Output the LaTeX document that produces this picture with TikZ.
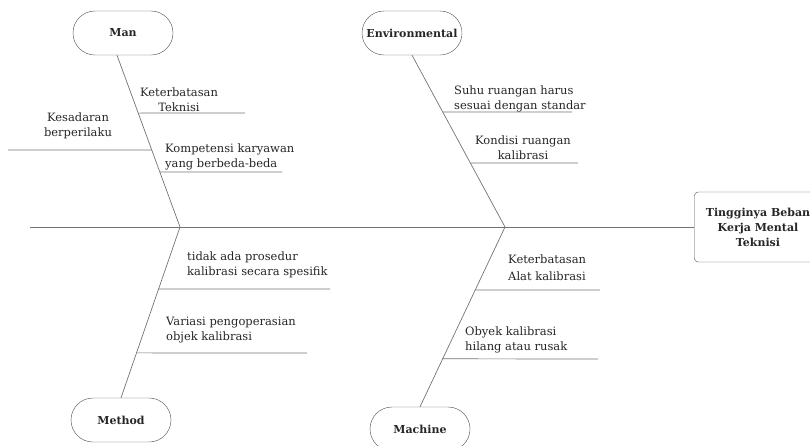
\documentclass[tikz,border=0pt]{standalone}
\usepackage{fontspec}
\setmainfont{DejaVu Serif}
\usetikzlibrary{calc}

\begin{document}
\begin{tikzpicture}[
  x=1pt, y=-1pt,
  cat/.style={draw=black!70, rounded corners=22pt, minimum width=100pt, minimum height=44pt, font=\bfseries\fontsize{11}{13}\selectfont, text=black!85},
  cause/.style={align=left, inner sep=0pt, font=\fontsize{11.5}{15}\selectfont, text=black!85},
  bone/.style={draw=black!55, line width=0.7pt}
]
  \useasboundingbox (0,0) rectangle (810,445);

  \node[cat] (man) at (123,33) {Man};
  \node[cat] (env) at (412,33) {Environmental};
  \node[cat] (meth) at (121,420) {Method};
  \node[cat] (mach) at (420,429) {Machine};
  \node[draw=black!70, rounded corners=4pt, minimum width=150pt, minimum height=70pt, anchor=west] (eff) at (694,227) {};
  \node[align=center, inner sep=0pt, font=\bfseries\fontsize{11}{15}\selectfont, text=black!85] (efft) at (758,227)
        {Tingginya Beban\\Kerja Mental\\Teknisi};

  \coordinate (tail) at (30,227);
  \coordinate (jm) at (180,227);
  \coordinate (je) at (505,227);
  \coordinate (mtop) at ([xshift=-6]man.south);

  \draw[bone] (tail) -- (eff.west);
  \draw[bone] (mtop) -- (jm);
  \draw[bone] (env.south) -- (je);
  \draw[bone] (meth.north) -- (jm);
  \draw[bone] (mach.north) -- (je);

  \coordinate (k1) at ($(mtop)!0.337!(jm)$);
  \coordinate (k2) at ($(mtop)!0.552!(jm)$);
  \coordinate (k3) at ($(mtop)!0.680!(jm)$);
  \coordinate (s1) at ($(env.south)!0.331!(je)$);
  \coordinate (s2) at ($(env.south)!0.628!(je)$);
  \coordinate (p1) at ($(meth.north)!0.637!(jm)$);
  \coordinate (p2) at ($(meth.north)!0.263!(jm)$);
  \coordinate (a1) at ($(mach.north)!0.650!(je)$);
  \coordinate (a2) at ($(mach.north)!0.267!(je)$);

  \coordinate (k1e) at (245,113);
  \coordinate (k2e) at (8,150);
  \coordinate (k3e) at (282,172);
  \coordinate (s1e) at (572,112);
  \coordinate (s2e) at (578,163);
  \coordinate (p1e) at (330,289);
  \coordinate (p2e) at (307,353);
  \coordinate (a1e) at (600,290);
  \coordinate (a2e) at (598,359);

  \foreach \a in {k1,k2,k3,s1,s2,p1,p2,a1,a2}
    \draw[bone] (\a) -- (\a e);

  \node[cause, align=center] (tk) at (179,100) {Keterbatasan\\Teknisi};
  \node[cause, align=center] (kb) at (78,126) {Kesadaran\\berperilaku};
  \node[cause, anchor=west] (kk) at (165,157) {Kompetensi karyawan\\yang berbeda-beda};
  \node[cause, anchor=west] (sr) at (454,99) {Suhu ruangan harus\\sesuai dengan standar};
  \node[cause, align=center] (kr) at (523,148) {Kondisi ruangan\\kalibrasi};
  \node[cause, anchor=west] (tp) at (187,265) {tidak ada prosedur\\kalibrasi secara spesifik};
  \node[cause, anchor=west] (vp) at (166,330) {Variasi pengoperasian\\objek kalibrasi};
  \node[cause, anchor=west, font=\fontsize{11.5}{17}\selectfont] (ka) at (508,268) {Keterbatasan\\Alat kalibrasi};
  \node[cause, anchor=west] (oh) at (465,340) {Obyek kalibrasi\\hilang atau rusak};
\end{tikzpicture}
\end{document}
